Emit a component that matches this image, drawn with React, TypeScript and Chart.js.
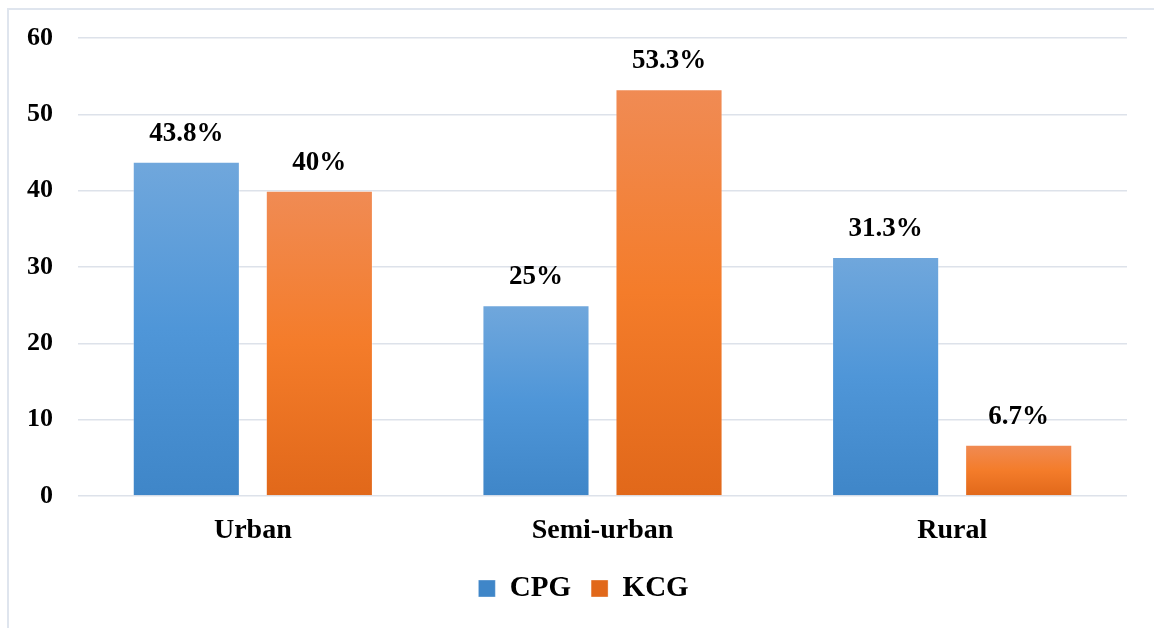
import React, { useEffect, useRef } from "react";
import { Chart, registerables } from "chart.js";

Chart.register(...registerables);

const categories = ["Urban", "Semi-urban", "Rural"];
const cpgValues = [43.8, 25, 31.3];
const kcgValues = [40, 53.3, 6.7];
const cpgLabels = ["43.8%", "25%", "31.3%"];
const kcgLabels = ["40%", "53.3%", "6.7%"];
const yMin = 0;
const yMax = 60;
const yStep = 10;

const FONT = "'Liberation Serif', 'Times New Roman', serif";

const blueStops = ["#70a7dc", "#4f96d8", "#3f86c8"];
const orangeStops = ["#f08b54", "#f47c2a", "#e1681a"];

function barGradient(stops: string[], solid: string) {
  return (c: any) => {
    const chart = c.chart;
    if (!chart.chartArea || c.parsed === undefined || c.type !== "data") return solid;
    const ys = chart.scales.y;
    const top = ys.getPixelForValue(c.parsed.y);
    const base = ys.getPixelForValue(0);
    if (!isFinite(top) || !isFinite(base) || top === base) return solid;
    const g = chart.ctx.createLinearGradient(0, top, 0, base);
    g.addColorStop(0, stops[0]);
    g.addColorStop(0.5, stops[1]);
    g.addColorStop(1, stops[2]);
    return g;
  };
}

// Value text above each bar
const valueLabels = {
  id: "valueLabels",
  afterDatasetsDraw(chart: any) {
    const ctx = chart.ctx;
    ctx.save();
    ctx.font = `bold 27px ${FONT}`;
    ctx.fillStyle = "#000";
    ctx.textAlign = "center";
    ctx.textBaseline = "middle";
    chart.data.datasets.forEach((ds: any, di: number) => {
      const meta = chart.getDatasetMeta(di);
      meta.data.forEach((el: any, i: number) => {
        ctx.fillText(ds.valueText[i], el.x, el.y - 28);
      });
    });
    ctx.restore();
  },
};

// Nudge the legend so it sits slightly right of the canvas centre
const legendShift = {
  id: "legendShift",
  afterLayout(chart: any) {
    const lg = chart.legend;
    if (lg) {
      lg.left += 9;
      lg.right += 9;
    }
  },
};

export default function App() {
  const ref = useRef<HTMLCanvasElement>(null);

  useEffect(() => {
    if (!ref.current) return;
    const chart = new Chart(ref.current, {
      type: "bar",
      data: {
        labels: categories,
        datasets: [
          {
            label: "CPG",
            data: cpgValues,
            valueText: cpgLabels,
            backgroundColor: barGradient(blueStops, "#4a90d6"),
            borderColor: "rgba(255,255,255,0.35)",
            borderWidth: 1,
            categoryPercentage: 0.761,
            barPercentage: 0.805,
          } as any,
          {
            label: "KCG",
            data: kcgValues,
            valueText: kcgLabels,
            backgroundColor: barGradient(orangeStops, "#f07a2a"),
            borderColor: "rgba(255,255,255,0.35)",
            borderWidth: 1,
            categoryPercentage: 0.761,
            barPercentage: 0.805,
          } as any,
        ],
      },
      options: {
        responsive: false,
        animation: false,
        layout: { padding: { left: 22, right: 27, top: 38, bottom: 15 } },
        plugins: {
          tooltip: { enabled: false },
          legend: {
            position: "bottom",
            labels: {
              color: "#000",
              font: { family: FONT, size: 29, weight: "bold" },
              boxWidth: 17,
              boxHeight: 17,
              padding: 20,
            },
          },
        },
        scales: {
          x: {
            grid: { display: false, drawTicks: false },
            border: { display: false },
            ticks: {
              color: "#000",
              font: { family: FONT, size: 28, weight: "bold" },
              padding: 18,
            },
            afterFit: (s: any) => {
              s.height = 58;
            },
          },
          y: {
            min: yMin,
            max: yMax,
            grid: { color: "#dde2ea", lineWidth: 1.5, drawTicks: false },
            border: { display: false },
            ticks: {
              stepSize: yStep,
              color: "#000",
              font: { family: FONT, size: 26, weight: "bold" },
              padding: 25,
            },
            afterFit: (s: any) => {
              s.width = 56;
              s.paddingTop = 0;
              s.paddingBottom = 0;
            },
          },
        },
      },
      plugins: [valueLabels, legendShift],
    });
    return () => chart.destroy();
  }, []);

  return (
    <div style={{ position: "fixed", left: 0, top: 0, width: 1154, height: 628, background: "#fff" }}>
      <div
        style={{
          position: "absolute",
          left: 7,
          top: 8,
          width: 1160,
          height: 640,
          borderTop: "2px solid #dfe5ee",
          borderLeft: "2px solid #dfe5ee",
        }}
      />
      <canvas ref={ref} width={1154} height={628} style={{ position: "absolute", left: 0, top: 0 }} />
    </div>
  );
}
